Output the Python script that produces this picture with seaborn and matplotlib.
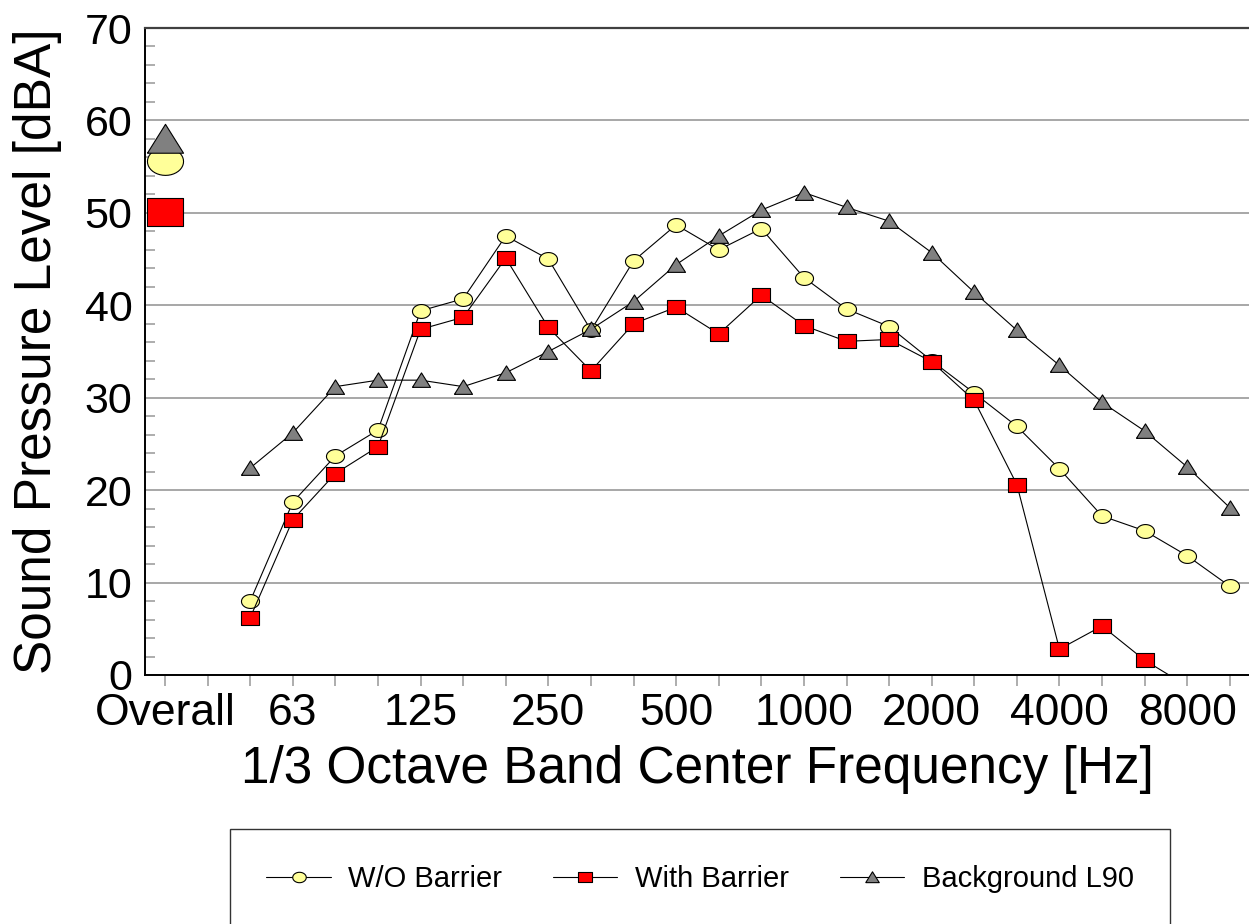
import numpy as np
import matplotlib
matplotlib.use("Agg")
import matplotlib.pyplot as plt
import seaborn as sns

# band positions on the x axis: 0 = Overall, 1 = gap, 2.. = 50 Hz .. 10 kHz
band_labels = ["50", "63", "80", "100", "125", "160", "200", "250", "315", "400",
               "500", "630", "800", "1000", "1250", "1600", "2000", "2500",
               "3150", "4000", "5000", "6300", "8000", "10000"]
band_pos = list(range(2, 2 + len(band_labels)))

# levels (dBA)
wo_barrier = [8.0, 18.7, 23.7, 26.5, 39.4, 40.7, 47.5, 45.0, 37.3, 44.8, 48.7, 46.0,
              48.3, 43.0, 39.6, 37.7, 34.0, 30.5, 26.9, 22.3, 17.2, 15.6, 12.9, 9.6]
with_barrier = [6.2, 16.8, 21.8, 24.7, 37.4, 38.7, 45.1, 37.6, 32.9, 38.0, 39.8, 36.9,
                41.1, 37.8, 36.1, 36.3, 33.9, 29.7, 20.6, 2.8, 5.3, 1.6, -1.2, -4.0]
background = [22.4, 26.2, 31.2, 31.9, 31.9, 31.2, 32.7, 35.0, 37.4, 40.4, 44.4, 47.5,
              50.3, 52.2, 50.6, 49.1, 45.7, 41.4, 37.3, 33.5, 29.5, 26.4, 22.5, 18.1]

# overall levels
overall_wo = 55.6
overall_with = 50.1
overall_bg = 58.0

tick_labels = {0: "Overall", 3: "63", 6: "125", 9: "250", 12: "500",
               15: "1000", 18: "2000", 21: "4000", 24: "8000"}

# marker shapes (slightly wide, like the original)
t = np.linspace(0, 2 * np.pi, 41)
ellipse = list(zip(1.3 * np.cos(t), np.sin(t)))
rect = [(-1.3, -1), (1.3, -1), (1.3, 1), (-1.3, 1), (-1.3, -1)]
tri = [(-1.25, -0.95), (1.25, -0.95), (0, 1.05), (-1.25, -0.95)]

sns.set_style("white")
plt.rcParams['font.family'] = ['Liberation Sans', 'DejaVu Sans']
plt.rcParams['text.color'] = 'black'
plt.rcParams['axes.labelcolor'] = 'black'
plt.rcParams['xtick.labelcolor'] = 'black'
plt.rcParams['ytick.labelcolor'] = 'black'

fig = plt.figure(figsize=(12.49, 9.24), dpi=100)
ax = fig.add_axes([145 / 1249, 1 - 675 / 924, 1 - 145 / 1249, (675 - 28) / 924])

series = [
    ("W/O Barrier", wo_barrier, overall_wo, ellipse, "#FFFF99"),
    ("With Barrier", with_barrier, overall_with, rect, "#FF0000"),
    ("Background L90", background, overall_bg, tri, "#808080"),
]

for i, (name, vals, overall, mk, fc) in enumerate(series):
    sns.lineplot(x=band_pos, y=vals, ax=ax, color="black", lw=0.8, marker=mk,
                 markersize=13, markerfacecolor=fc, markeredgecolor="black",
                 markeredgewidth=0.8, label=name, zorder=3 + i)
    ax.plot([0], [overall], linestyle="none", marker=mk, markersize=26,
            markerfacecolor=fc, markeredgecolor="black", markeredgewidth=0.8,
            zorder=3 + i)

handles, labels = ax.get_legend_handles_labels()
if ax.get_legend() is not None:
    ax.get_legend().remove()

ax.set_xlim(-0.47, 25.45)
ax.set_ylim(0, 70)

ax.set_xticks(range(0, 26))
ax.set_xticklabels([tick_labels.get(p, "") for p in range(0, 26)])
ax.set_yticks(range(0, 71, 10))
ax.set_yticks(range(0, 71, 2), minor=True)

ax.tick_params(axis="x", which="major", direction="out", length=8, width=1.2,
               color="#a0a0a0", labelsize=32, pad=5, bottom=True)
ax.tick_params(axis="y", which="major", length=0, labelsize=31, pad=9, left=True)
ax.tick_params(axis="y", which="minor", direction="in", length=7, width=1.2,
               color="#a0a0a0", left=True)

ax.yaxis.grid(True, which="major", color="#a0a0a0", lw=1.3)
ax.xaxis.grid(False)
ax.set_axisbelow(True)

for side in ["left", "bottom"]:
    ax.spines[side].set_color("black")
    ax.spines[side].set_linewidth(1.4)
ax.spines["top"].set_color("#404040")
ax.spines["top"].set_linewidth(1.6)
ax.spines["right"].set_visible(False)

ax.set_xlabel("1/3 Octave Band Center Frequency [Hz]", fontsize=37, labelpad=8)
ax.set_ylabel("Sound Pressure Level [dBA]", fontsize=37, labelpad=16)

leg = fig.legend(handles, labels, loc="center", ncol=3, mode="expand",
                 bbox_to_anchor=(230 / 1249, 1 - 930 / 924, 940 / 1249, 102 / 924),
                 fontsize=21, frameon=True, fancybox=False, borderpad=1.25,
                 borderaxespad=0, handlelength=2.2, handletextpad=0.6,
                 markerscale=0.75)
leg.get_frame().set_edgecolor("black")
leg.get_frame().set_linewidth(1.0)

fig.savefig("out.png", dpi=100)
